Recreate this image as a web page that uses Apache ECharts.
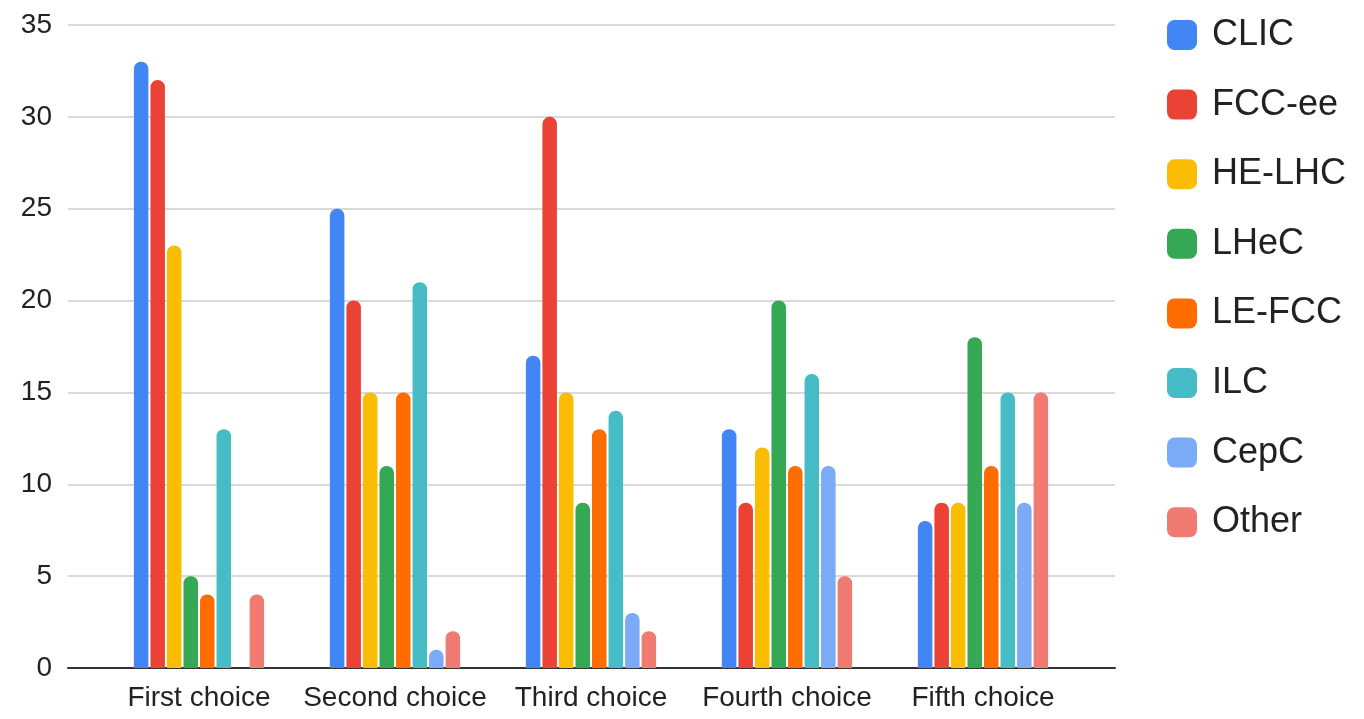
<!DOCTYPE html>
<html>
<head>
<meta charset="utf-8">
<script src="https://cdn.jsdelivr.net/npm/echarts@6/dist/echarts.min.js"></script>
<style>
  html, body { margin: 0; padding: 0; background: #fff; }
  #chart { width: 1364px; height: 719px; }
</style>
</head>
<body>
<div id="chart"></div>
<script>
// Survey choices, one bar per collider option
const categories = ['First choice', 'Second choice', 'Third choice', 'Fourth choice', 'Fifth choice'];
const seriesNames = ['CLIC', 'FCC-ee', 'HE-LHC', 'LHeC', 'LE-FCC', 'ILC', 'CepC', 'Other'];
const CLIC   = [33, 25, 17, 13, 8];
const FCCee  = [32, 20, 30, 9, 9];
const HELHC  = [23, 15, 15, 12, 9];
const LHeC   = [5, 11, 9, 20, 18];
const LEFCC  = [4, 15, 13, 11, 11];
const ILC    = [13, 21, 14, 16, 15];
const CepC   = [0, 1, 3, 11, 9];
const Other  = [4, 2, 2, 5, 15];
const yTicks = [0, 5, 10, 15, 20, 25, 30, 35];

const seriesValues = [CLIC, FCCee, HELHC, LHeC, LEFCC, ILC, CepC, Other];
const colors = ['#4285F4', '#EA4335', '#FBBC04', '#34A853', '#FF6D01', '#46BDC6', '#7BAAF7', '#F07B72'];
const font = '"Liberation Sans", Arial, sans-serif';

const chart = echarts.init(document.getElementById('chart'));

chart.setOption({
  animation: false,
  color: colors,
  textStyle: { fontFamily: font },
  legend: {
    orient: 'vertical',
    left: 1162,
    top: 12,
    itemWidth: 30,
    itemHeight: 30,
    itemGap: 33.6,
    icon: 'roundRect',
    data: seriesNames,
    textStyle: {
      fontFamily: font,
      fontSize: 36,
      color: '#222',
      lineHeight: 30,
      padding: [0, 0, 0, 10]
    }
  },
  grid: [
    // full-width frame: gridlines, y labels, baseline
    { left: 68, right: 249, top: 25, bottom: 51 },
    // inset area holding the bar groups
    { left: 101, right: 283, top: 25, bottom: 51 }
  ],
  xAxis: [
    {
      gridIndex: 0,
      type: 'category',
      data: [''],
      axisLine: { show: true, lineStyle: { color: '#333', width: 2 } },
      axisTick: { show: false },
      axisLabel: { show: false }
    },
    {
      gridIndex: 1,
      type: 'category',
      data: categories,
      axisLine: { show: false },
      axisTick: { show: false },
      axisLabel: {
        interval: 0,
        fontFamily: font,
        fontSize: 28,
        color: '#222',
        margin: 16
      }
    }
  ],
  yAxis: [
    {
      gridIndex: 0,
      type: 'value',
      min: yTicks[0],
      max: yTicks[yTicks.length - 1],
      interval: yTicks[1] - yTicks[0],
      axisLine: { show: false },
      axisTick: { show: false },
      splitLine: { lineStyle: { color: '#cccccc', width: 1.5 } },
      axisLabel: {
        fontFamily: font,
        fontSize: 28,
        color: '#222',
        margin: 16
      }
    },
    {
      gridIndex: 1,
      type: 'value',
      min: yTicks[0],
      max: yTicks[yTicks.length - 1],
      interval: yTicks[1] - yTicks[0],
      show: false,
      splitLine: { show: false }
    }
  ],
  series: seriesNames.map((name, i) => ({
    name: name,
    type: 'bar',
    xAxisIndex: 1,
    yAxisIndex: 1,
    data: seriesValues[i],
    barWidth: 14.5,
    barGap: '14%',
    itemStyle: { color: colors[i], borderRadius: [7, 7, 0, 0] }
  }))
});
</script>
</body>
</html>
